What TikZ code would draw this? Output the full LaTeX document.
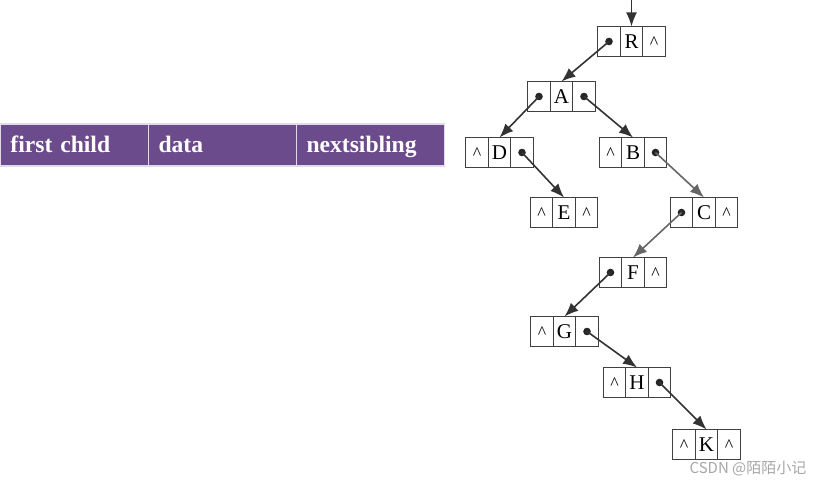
\documentclass[tikz,border=0pt]{standalone}
\usepackage{fontspec}
\setmainfont{Liberation Serif}
\newfontfamily\cjkfont{Noto Sans CJK SC}
\usetikzlibrary{arrows.meta,positioning}
\definecolor{headpurple}{RGB}{107,75,140}
\newcommand{\nul}{\textasciicircum}
\newcommand{\ptr}{}

\begin{document}
\begin{tikzpicture}[x=0.5pt, y=-0.5pt, font=\fontsize{10.5}{12}\selectfont]
\tikzstyle{cell}=[rectangle, draw=black!75, line width=0.6pt, minimum width=11.25pt, minimum height=15pt, text height=7pt, text depth=0pt, inner sep=0pt, outer sep=0pt]
\tikzstyle{head}=[rectangle, draw=white!80!headpurple, line width=0.6pt, fill=headpurple, text=white, minimum width=74pt, minimum height=21pt, text width=64pt, text height=9.5pt, text depth=1.5pt, inner xsep=5pt, inner ysep=0pt, outer sep=0pt, align=left, font=\fontsize{11.8}{14}\selectfont\bfseries]
\tikzstyle{link}=[draw=black!80, line width=0.8pt, -{Latex[length=7pt, width=5.5pt]}]
\useasboundingbox (0,0) rectangle (819,485);

% node layout: first child | data | nextsibling
\node[head] (fc) at (74.5,145) {first child};
\node[head, right=0pt of fc] (dt) {data};
\node[head, right=0pt of dt] (ns) {nextsibling};

% tree stored as child-sibling list
\foreach \n/\x/\y/\l/\r in {R/631.5/41.5/\ptr/\nul, A/561.5/96.5/\ptr/\ptr, D/499.5/152.5/\nul/\ptr,
  B/633/152.5/\nul/\ptr, E/564/212.5/\nul/\nul, C/704/212.5/\ptr/\nul, F/633/272.5/\ptr/\nul,
  G/564.5/331.5/\nul/\ptr, H/637/382.5/\nul/\ptr, K/706.5/444.5/\nul/\nul} {
  \node[cell] (\n) at (\x,\y) {\n};
  \node[cell, anchor=east] (\n-l) at (\n.west) {\small\l};
  \node[cell, anchor=west] (\n-r) at (\n.east) {\small\r};
}
\foreach \c in {R-l, A-l, A-r, D-r, B-r, C-l, F-l, G-r, H-r}
  \fill[black!85] (\c.center) circle (1.9pt);

\coordinate (root) at (631.5,0);
\draw[link] (root) -- (R.north);
\draw[link] (R-l.center) -- (A.north);
\draw[link] (A-l.center) -- (D.north);
\draw[link] (A-r.center) -- (B.north);
\draw[link] (D-r.center) -- (E.north);
\draw[link, draw=black!60] (B-r.center) -- (C.north);
\draw[link, draw=black!60] (C-l.center) -- (F.north);
\draw[link] (F-l.center) -- (G.north);
\draw[link] (G-r.center) -- (H.north);
\draw[link] (H-r.center) -- (K.north);

\node[text=black!35, font=\cjkfont\fontsize{7.5}{9}\selectfont] (mark) at (748,469) {CSDN @陌陌小记};
\end{tikzpicture}
\end{document}
